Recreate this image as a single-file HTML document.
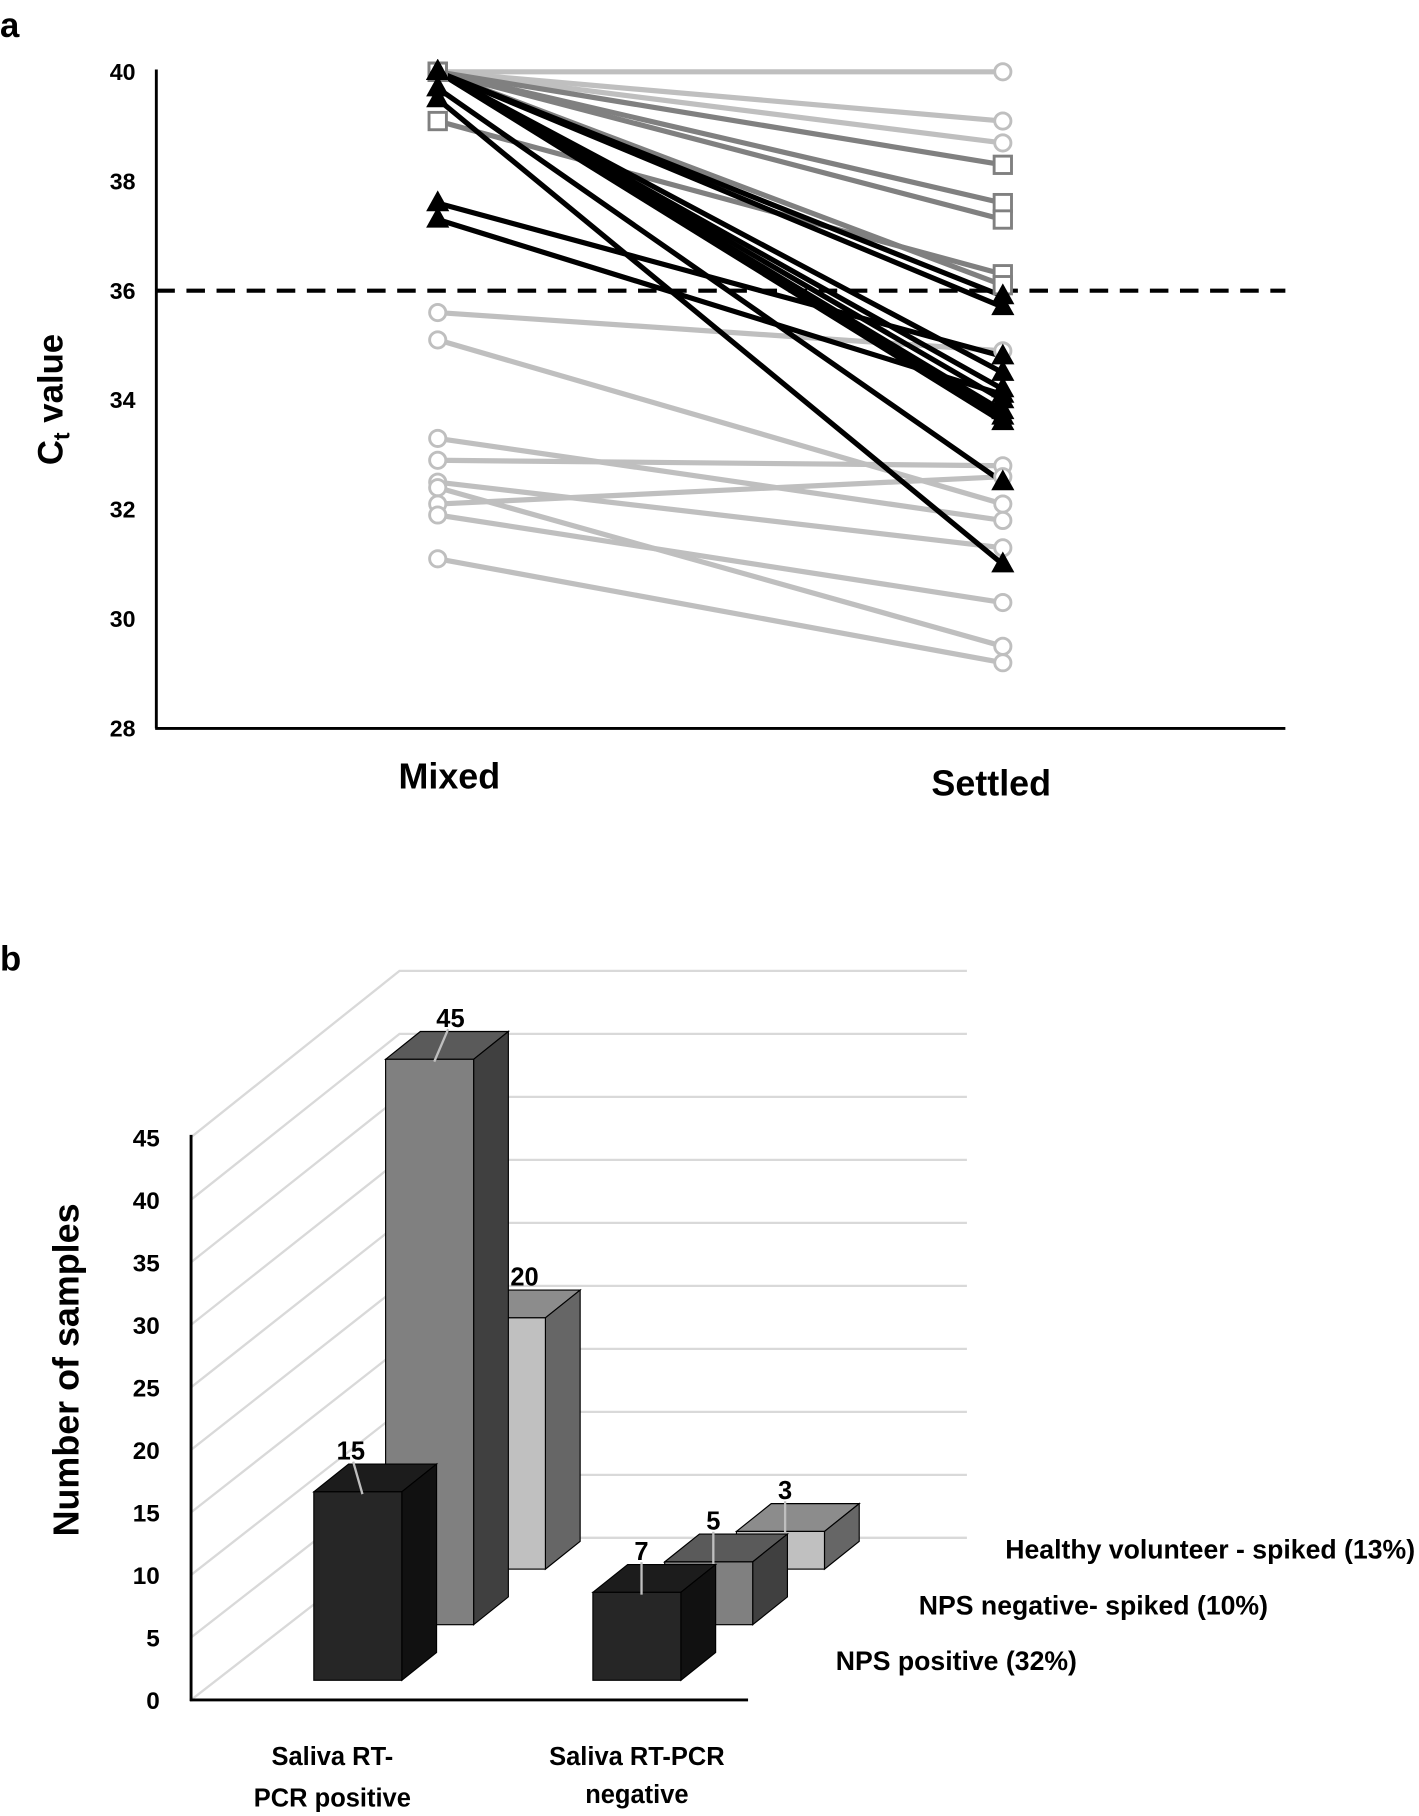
<!DOCTYPE html>
<html><head><meta charset="utf-8"><style>
html,body{margin:0;padding:0;background:#fff}
svg{display:block}
text{font-family:"Liberation Sans Narrow","Liberation Sans",sans-serif;font-weight:bold;fill:#000}
</style></head><body>
<svg id="s" xmlns="http://www.w3.org/2000/svg" width="1419" height="1816" viewBox="0 0 1225.4 1568.2" preserveAspectRatio="none">
<text x="0" y="32" font-size="30">a</text>
<text x="0" y="838" font-size="30">b</text>
<g id="topChart"></g>
<g id="botChart"></g>
</svg>
<script>
// ---- Chart a data ----
const conditions = ["Mixed","Settled"];
const yTicksA = [28,30,32,34,36,38,40];
const cutoff = 36;
const circleMixed   = [40,40,40,35.6,35.1,33.3,32.9,32.1,32.5,32.4,31.9,31.1];
const circleSettled = [40,39.1,38.7,34.9,32.1,31.8,32.8,32.6,31.3,29.5,30.3,29.2];
const squareMixed   = [40,40,40,39.1,40];
const squareSettled = [38.3,37.6,37.3,36.3,36.1];
const triMixed   = [40,40,40,40,40,40,40,40,39.7,39.5,37.6,37.3];
const triSettled = [35.9,35.7,34.5,34.2,34.0,33.8,33.6,33.7,32.5,31.0,34.8,34.1];
// ---- Chart b data ----
const categoriesB = ["Saliva RT-PCR positive","Saliva RT-PCR negative"];
const seriesNames = ["NPS positive (32%)","NPS negative- spiked (10%)","Healthy volunteer - spiked (13%)"];
const npsPositive = [15,7];
const npsNegSpiked = [45,5];
const healthySpiked = [20,3];
const yTicksB = [0,5,10,15,20,25,30,35,40,45];

const NS="http://www.w3.org/2000/svg";
function mk(parent,tag,attrs,txt){const el=document.createElementNS(NS,tag);for(const k in attrs)el.setAttribute(k,attrs[k]);if(txt!==undefined)el.textContent=txt;parent.appendChild(el);return el;}

// ===== Chart a =====
const topG=document.getElementById('topChart');
const ya=v=>62+(40-v)*(567/12);
const xa=i=>[378,866][i];
let e;
e=mk(topG,'line',{x1:135,y1:60,x2:135,y2:629,stroke:'#000','stroke-width':2.5});


e=mk(topG,'line',{x1:134,y1:629,x2:1110,y2:629,stroke:'#000','stroke-width':2.5});


yTicksA.forEach(t=>{
  const tl=mk(topG,'text',{x:117,y:ya(t)+7,'font-size':20,'text-anchor':'end'},String(t));
  
  
});
conditions.forEach((c,i)=>{
  const cl=mk(topG,'text',{x:xa(i)+(i?-10:10),y:i?687:681,'font-size':31,'text-anchor':'middle'},c);
  
  
});
e=mk(topG,'text',{transform:'translate(54,345) rotate(-90)','font-size':30,'text-anchor':'middle','font-family':'Liberation Sans'});


mk(e,'tspan',{},'C');mk(e,'tspan',{'font-size':20,dy:6},'t');mk(e,'tspan',{dy:-6},' value');
e=mk(topG,'line',{x1:135,y1:ya(cutoff),x2:1110,y2:ya(cutoff),stroke:'#000','stroke-width':3.5,'stroke-dasharray':'16,10'});



function seriesLines(m,s,color,w,name){
  m.forEach((v,i)=>{
    const l=mk(topG,'line',{x1:xa(0),y1:ya(v),x2:xa(1),y2:ya(s[i]),stroke:color,'stroke-width':w});
    
    
  });
}
function circ(x,y){const c=mk(topG,'circle',{cx:x,cy:y,r:7,fill:'#fff',stroke:'#bfbfbf','stroke-width':2.5});
  
  }
function sq(x,y){const c=mk(topG,'rect',{x:x-7.5,y:y-7.5,width:15,height:15,fill:'#fff',stroke:'#808080','stroke-width':2.5});
  
  }
function tri(x,y){const c=mk(topG,'polygon',{points:`${x},${y-11} ${x-10},${y+7} ${x+10},${y+7}`,fill:'#000'});
  
  }
seriesLines(circleMixed,circleSettled,'#bfbfbf',4.5,'circle');
seriesLines(squareMixed,squareSettled,'#808080',4.5,'square');
seriesLines(triMixed,triSettled,'#000',4.5,'triangle');
circleMixed.forEach((v,i)=>{circ(xa(0),ya(v));circ(xa(1),ya(circleSettled[i]));});
squareMixed.forEach((v,i)=>{sq(xa(0),ya(v));sq(xa(1),ya(squareSettled[i]));});
triMixed.forEach((v,i)=>{tri(xa(0),ya(v));tri(xa(1),ya(triSettled[i]));});

// ===== Chart b =====
const botG=document.getElementById('botChart');
const unitB=10.85, gridStep=54.4;
yTicksB.forEach((t,k)=>{
  const yb=1328-k*gridStep, yf=1468-k*54;
  const g=mk(botG,'polyline',{points:`165,${yf} 345,${yb} 835,${yb}`,fill:'none',stroke:'#d9d9d9','stroke-width':2});
  
  
  const tl=mk(botG,'text',{x:138,y:yf+8,'font-size':21,'text-anchor':'end'},String(t));
  
  
});
e=mk(botG,'line',{x1:165,y1:980,x2:165,y2:1469,stroke:'#000','stroke-width':2.5});


e=mk(botG,'line',{x1:164,y1:1468,x2:646,y2:1468,stroke:'#000','stroke-width':2.5});



const rowsData=[npsPositive,npsNegSpiked,healthySpiked];
const faceCol=[['#262626','#111111','#1c1c1c'],['#808080','#404040','#5a5a5a'],['#c0c0c0','#666666','#8c8c8c']];
const bw=76, ddx=30, ddy=-24;
for(let r=2;r>=0;r--){
  rowsData[r].forEach((v,g)=>{
    const x0=271+241*g+62*r, base=1451-48*r, yt=base-v*unitB;
    const [cf,cs,ct]=faceCol[r];
    const grp=mk(botG,'g',{});
    
    
    mk(grp,'polygon',{points:`${x0},${yt} ${x0+ddx},${yt+ddy} ${x0+bw+ddx},${yt+ddy} ${x0+bw},${yt}`,fill:ct,stroke:'#000','stroke-width':1});
    mk(grp,'polygon',{points:`${x0+bw},${yt} ${x0+bw+ddx},${yt+ddy} ${x0+bw+ddx},${base+ddy} ${x0+bw},${base}`,fill:cs,stroke:'#000','stroke-width':1});
    mk(grp,'rect',{x:x0,y:yt,width:bw,height:base-yt,fill:cf,stroke:'#000','stroke-width':1});
    const lx=x0+bw/2+4, ly=yt-8;
    const ll=mk(botG,'line',{x1:lx,y1:ly+10,x2:lx+(r===0&&g===0?-8:(r===1&&g===0?12:0)),y2:ly-18,stroke:'#bfbfbf','stroke-width':2});
    
    
    const vl=mk(botG,'text',{x:lx+(r===0&&g===0?-10:(r===1&&g===0?14:(r===2&&g===0?16:0))),y:ly-20,'font-size':22,'text-anchor':'middle'},String(v));
    
    
  });
}
[[287,['Saliva RT-','PCR positive']],[550,['Saliva RT-PCR','negative']]].forEach(([x,lines],g)=>{
  lines.forEach((ln,i)=>{
    const t=mk(botG,'text',{x:x,y:1524+i*36-(g?3*i:0),'font-size':22,'text-anchor':'middle'},ln);
    
    
  });
});
[[930,1442],[1095,1394],[1222,1346]].forEach(([x,y],i)=>{
  const t=mk(botG,'text',{x:x,y:y,'font-size':23,'text-anchor':'end'},seriesNames[i]);
  
  
});
e=mk(botG,'text',{transform:'translate(68,1183) rotate(-90)','font-size':31,'text-anchor':'middle','font-family':'Liberation Sans'},'Number of samples');


</script>
</body></html>
